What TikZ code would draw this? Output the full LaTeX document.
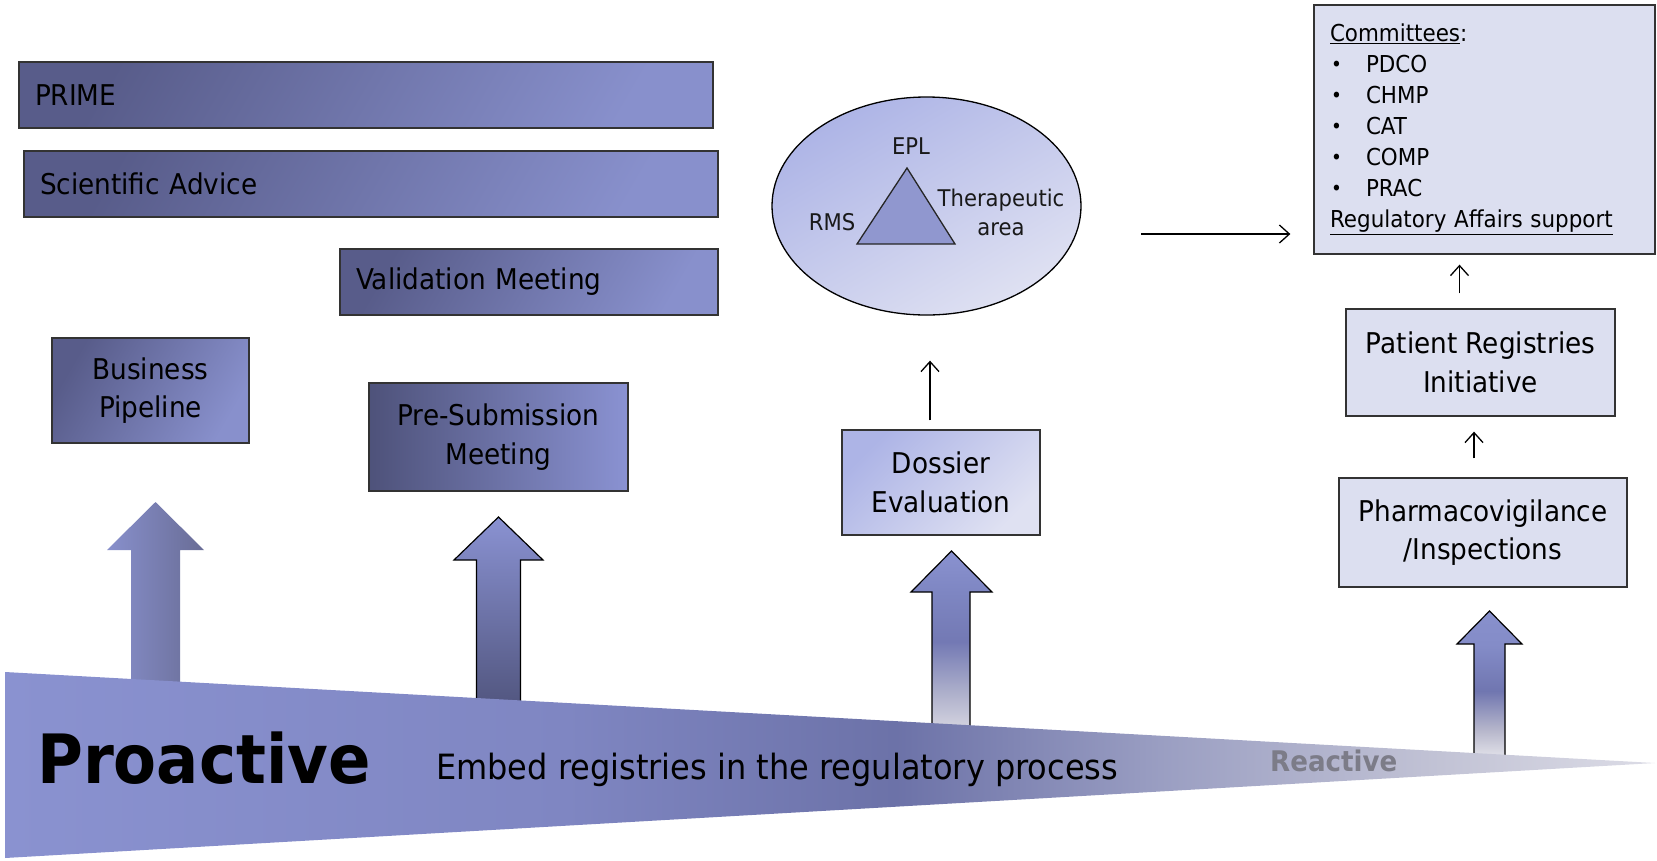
\documentclass[tikz,border=0pt]{standalone}
\usepackage{fontspec}
\setmainfont[FakeStretch=0.92]{DejaVu Sans}
\usetikzlibrary{arrows.meta,shapes.geometric}
\definecolor{boxdark}{HTML}{585C8A}
\definecolor{boxlight}{HTML}{8890CC}
\definecolor{psmdark}{HTML}{4E527A}
\definecolor{psmlight}{HTML}{8A92D2}
\definecolor{lightA}{HTML}{ADB4E6}
\definecolor{lightB}{HTML}{DFE1F2}
\definecolor{paleBox}{HTML}{DCDFF0}
\definecolor{triFill}{HTML}{9097CF}
\definecolor{reactgray}{HTML}{7C7C88}
\definecolor{wA}{HTML}{8A92D0}
\definecolor{wB}{HTML}{7F86C2}
\definecolor{wC}{HTML}{6C72A8}
\definecolor{wD}{HTML}{9A9EC2}
\definecolor{wE}{HTML}{C0C1D4}
\definecolor{wF}{HTML}{DCDCE6}
\definecolor{dA}{HTML}{D8D8E2}
\definecolor{dB}{HTML}{B0B2CC}
\definecolor{dC}{HTML}{7379B4}
\definecolor{dD}{HTML}{7E86C2}
\definecolor{dE}{HTML}{8A92D0}
\definecolor{pA}{HTML}{E0E0E8}
\definecolor{pB}{HTML}{B8B8CC}
\definecolor{pC}{HTML}{7076B0}
\definecolor{pD}{HTML}{848CC8}
\definecolor{pE}{HTML}{8890CC}
\pgfdeclarehorizontalshading{wedgeshade}{100bp}{color(0bp)=(wA); color(25bp)=(wA); color(42bp)=(wB); color(52bp)=(wC); color(60bp)=(wD); color(68bp)=(wE); color(75bp)=(wF); color(100bp)=(wF)}
\pgfdeclareverticalshading{dossshade}{100bp}{color(0bp)=(dA); color(27bp)=(dA); color(37bp)=(dB); color(51bp)=(dC); color(64bp)=(dD); color(75bp)=(dE); color(100bp)=(dE)}
\pgfdeclareverticalshading{pvshade}{100bp}{color(0bp)=(pA); color(28bp)=(pA); color(36bp)=(pB); color(49bp)=(pC); color(64bp)=(pD); color(75bp)=(pE); color(100bp)=(pE)}
\newcommand{\cbul}{\hspace*{1pt}\makebox[35pt][l]{\raisebox{1.5pt}{\fontsize{20}{20}\selectfont •}}}
\tikzset{
  boxtext/.style={font=\fontsize{28.6}{38.5}\selectfont, text=black},
  darkbox/.style={boxtext, draw=black!80, line width=1.3pt, left color=boxdark, right color=boxlight, shading angle=60, inner sep=0pt},
  lightbox/.style={boxtext, draw=black!80, line width=1.3pt, left color=lightA, right color=lightB, shading angle=45, inner sep=0pt},
  palebox/.style={boxtext, draw=black!80, line width=1.3pt, fill=paleBox, inner sep=0pt},
  lbl/.style={font=\fontsize{23}{29}\selectfont, text=black!90, inner sep=0pt, align=center},
  thinarrow/.style={-{Straight Barb[length=10pt,width=18pt]}, line width=1.3pt, black},
  blockarrow/.style={draw=black, line width=1.2pt, line join=miter},
}
\begin{document}
\begin{tikzpicture}[x=1pt,y=1pt]
\useasboundingbox (0,0) rectangle (1657,-860);

% left boxes
\node[darkbox, minimum width=694pt, minimum height=66pt, text width=662pt, align=left] (prime) at (366,-95) {PRIME};
\node[darkbox, minimum width=694pt, minimum height=66pt, text width=662pt, align=left] (sa) at (371,-184) {Scientific Advice};
\node[darkbox, minimum width=378pt, minimum height=66pt, text width=346pt, align=left] (vm) at (529,-282) {Validation Meeting};
\node[darkbox, minimum width=197pt, minimum height=105pt, align=center] (bp) at (150.5,-390.5) {Business\\Pipeline};
\node[darkbox, left color=psmdark, right color=psmlight, shading angle=90, minimum width=259pt, minimum height=108pt, align=center] (psm) at (498.5,-437) {Pre-Submission\\Meeting};
\node[lightbox, minimum width=198pt, minimum height=105pt, align=center] (dossier) at (941,-482.5) {Dossier\\Evaluation};

% ellipse with triangle
\node[ellipse, draw=black, line width=1.3pt, left color=lightA, right color=lightB, shading angle=30, minimum width=309pt, minimum height=218pt] (team) at (926.5,-206) {};
\draw[fill=triFill, draw=black!85, line width=1.3pt] (907,-168) -- (955,-244) -- (857,-244) -- cycle;
\node[lbl] (epl) at (911,-146) {EPL};
\node[lbl] (rms) at (832,-222) {RMS};
\node[lbl] (ther) at (1001,-212.5) {Therapeutic\\area};

% right boxes
\node[palebox, minimum width=341pt, minimum height=249pt, text width=309pt, align=left, font=\fontsize{23.3}{31}\selectfont] (committees) at (1484.5,-129.5)
  {\underline{Committees}:\\
   \cbul PDCO\\
   \cbul CHMP\\
   \cbul CAT\\
   \cbul COMP\\
   \cbul PRAC\\
   \underline{Regulatory Affairs support}};
\node[palebox, minimum width=269pt, minimum height=107pt, align=center] (pri) at (1480.5,-362.5) {Patient Registries\\Initiative};
\node[palebox, minimum width=288pt, minimum height=109pt, align=center] (pv) at (1483,-532.5) {Pharmacovigilance\\/Inspections};

% thin arrows
\coordinate (dstart) at ([xshift=-11pt]dossier.north);
\draw[thinarrow, shorten <=9pt, shorten >=45pt] (dstart) -- (dstart |- team.south);
\coordinate (eout) at (1141,-234);
\draw[thinarrow, shorten >=23pt] (eout) -- (eout -| committees.west);
\coordinate (pstart) at ([xshift=-21pt]pri.north);
\draw[thinarrow, shorten <=15pt, shorten >=10pt] (pstart) -- (pstart |- committees.south);
\coordinate (vstart) at ([xshift=-9pt]pv.north);
\draw[thinarrow, shorten <=19pt, shorten >=15pt] (vstart) -- (vstart |- pri.south);

% block arrows
\shade[left color=boxlight, right color=boxdark!90!white] (155.5,-502) -- (204,-550) -- (180,-550) -- (180,-705) -- (131,-705) -- (131,-550) -- (107,-550) -- cycle;
\shade[blockarrow, top color=psmlight, bottom color=psmdark] (498.5,-517) -- (543,-560) -- (520.5,-560) -- (520.5,-718) -- (476.5,-718) -- (476.5,-560) -- (454,-560) -- cycle;
\shade[blockarrow, shading=dossshade] (951.5,-551) -- (992,-592) -- (970,-592) -- (970,-740) -- (932,-740) -- (932,-592) -- (911,-592) -- cycle;
\shade[blockarrow, shading=pvshade] (1489.5,-611) -- (1522,-644) -- (1505,-644) -- (1505,-765) -- (1474,-765) -- (1474,-644) -- (1457,-644) -- cycle;

% wedge
\shade[shading=wedgeshade] (5,-672) -- (1655,-763) -- (5,-858) -- cycle;

% wedge texts
\node[anchor=base west, inner sep=0pt, font=\fontsize{68}{68}\selectfont\bfseries] (proactive) at (37,-783) {Proactive};
\node[anchor=base west, inner sep=0pt, font=\fontsize{34.8}{40}\selectfont] (embed) at (436,-779) {Embed registries in the regulatory process};
\node[anchor=base west, inner sep=0pt, font=\fontsize{28.4}{30}\selectfont\bfseries, text=reactgray] (reactive) at (1270,-771) {Reactive};
\end{tikzpicture}
\end{document}
